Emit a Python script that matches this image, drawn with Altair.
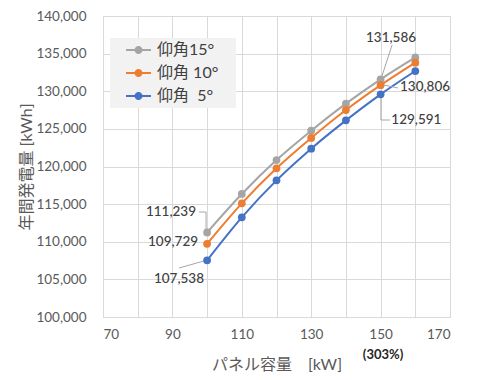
import altair as alt
import pandas as pd

# ---- data ----
capacity = [100, 110, 120, 130, 140, 150, 160]
series_names = ["仰角15°", "仰角 10°", "仰角\u00a0\u00a05°"]
gen_15 = [111239, 116350, 120860, 124760, 128350, 131586, 134500]
gen_10 = [109729, 115100, 119760, 123790, 127500, 130806, 133800]
gen_5 = [107538, 113250, 118160, 122370, 126130, 129591, 132690]
colors = ["#a5a5a5", "#ed7d31", "#4472c4"]

x_ticks = [70, 80, 90, 100, 110, 120, 130, 140, 150, 160, 170]
y_ticks = [100000, 105000, 110000, 115000, 120000, 125000, 130000, 135000, 140000]

# data-label annotations (text, anchor in data units, alignment)
lab_text = ["111,239", "109,729", "107,538", "131,586", "130,806", "129,591"]
lab_x = [96.8, 97.4, 91.9, 153.0, 155.6, 153.1]
lab_y = [113953, 109980, 105050, 137076, 130565, 126179]
lab_align = ["right", "right", "center", "center", "left", "left"]

# leader lines: id, order, x, y
lead_id = [0, 0, 0, 1, 1, 2, 2, 3, 3, 4, 4, 4]
lead_ord = [0, 1, 2, 0, 1, 0, 1, 0, 1, 0, 1, 2]
lead_x = [97.7, 99.7, 99.7, 91.9, 99.1, 153.3, 150.4, 155.0, 151.0, 152.7, 150.1, 150.1]
lead_y = [113953, 113953, 111694, 106512, 107442, 136146, 132026, 130432, 130831, 126179, 126179, 129236]

note_text = ["(303%)"]
note_x = [150.7]
note_y = [94950]

# ---- tables ----
rows = []
for name, vals in zip(series_names, [gen_15, gen_10, gen_5]):
    for c, v in zip(capacity, vals):
        rows.append({"x": c, "y": v, "series": name})
df = pd.DataFrame(rows)
labels = pd.DataFrame({"t": lab_text, "x": lab_x, "y": lab_y, "a": lab_align})
leads = pd.DataFrame({"id": lead_id, "o": lead_ord, "x": lead_x, "y": lead_y})
notes = pd.DataFrame({"t": note_text, "x": note_x, "y": note_y})

FONT = "Lato, 'Noto Sans CJK JP', sans-serif"

xscale = alt.Scale(domain=[70, 170], nice=False, zero=False)
yscale = alt.Scale(domain=[100000, 140000], nice=False, zero=False)
cscale = alt.Scale(domain=series_names, range=colors)

x_enc = alt.X(
    "x:Q", scale=xscale,
    axis=alt.Axis(values=x_ticks, title="パネル容量　[kW]", format="d",
                  labelExpr="datum.value % 20 == 10 ? datum.label : ''",
                  labelPadding=10, titlePadding=16),
)
y_enc = alt.Y(
    "y:Q", scale=yscale,
    axis=alt.Axis(values=y_ticks, title="年間発電量 [kWh]", format=",d",
                  labelPadding=17, titlePadding=1),
)

# legend symbol: short line with a dot; the moveTo point widens the legend box
sym_path = ("M15.5,0 "
            "M-2.08,-0.17H-0.6V0.17H-2.08Z M0.6,-0.17H2.08V0.17H0.6Z "
            "M0.67,0A0.67,0.67,0,1,1,-0.67,0A0.67,0.67,0,1,1,0.67,0Z")

lines = alt.Chart(df).mark_line(interpolate="monotone", strokeWidth=2).encode(
    x=x_enc, y=y_enc,
    stroke=alt.Stroke("series:N", scale=cscale, legend=None),
    detail="series:N",
)
points = alt.Chart(df).mark_point(filled=True, opacity=1, size=60).encode(
    x=x_enc, y=y_enc,
    color=alt.Color("series:N", scale=cscale,
                    legend=alt.Legend(title=None, orient="none", legendX=7, legendY=22,
                                      symbolType=sym_path, symbolSize=144,
                                      symbolOffset=16.5,
                                      symbolStrokeWidth=0, labelFontSize=16,
                                      labelColor="#404040", labelOffset=10.5,
                                      fillColor="#f2f2f2", padding=4, rowPadding=7,
                                      labelFont=FONT)),
)

leader = alt.Chart(leads).mark_line(color="#a6a6a6", strokeWidth=1).encode(
    x=x_enc, y=y_enc, detail="id:N", order="o:Q"
)

label_layers = []
for al in ["right", "center", "left"]:
    label_layers.append(
        alt.Chart(labels).transform_filter(alt.datum.a == al)
        .mark_text(align=al, baseline="middle", fontSize=13.5, color="#404040",
                   font=FONT, fontWeight=500)
        .encode(x=x_enc, y=y_enc, text="t:N")
    )

note = alt.Chart(notes).mark_text(align="center", baseline="middle", fontSize=13,
                                  fontWeight="bold", color="#262626", font=FONT).encode(
    x=x_enc, y=y_enc, text="t:N"
)

chart = alt.layer(lines, leader, points, *label_layers, note).properties(
    width=347, height=301,
    autosize=alt.AutoSizeParams(type="none"),
    padding={"left": 95, "top": 8, "right": 25, "bottom": 62},
).resolve_scale(color="independent", stroke="independent").configure(font=FONT).configure_axis(
    grid=True, gridColor="#d9d9d9", gridWidth=1, ticks=False, tickSize=0,
    domainColor="#d9d9d9", labelFont=FONT, labelFontSize=13.5, labelColor="#595959",
    titleFont=FONT, titleFontSize=16, titleColor="#595959", titleFontWeight="normal",
).configure_view(stroke="#d9d9d9")

chart.save("out.html", embed_options={"renderer": "svg", "actions": False})
